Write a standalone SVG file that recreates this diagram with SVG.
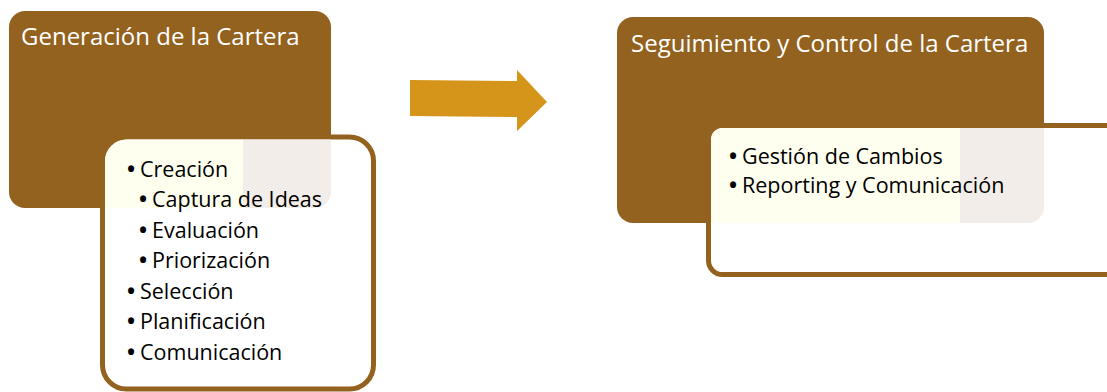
<svg xmlns="http://www.w3.org/2000/svg" width="1107" height="392" viewBox="0 0 1107 392">
<style>
.box{fill:#93621F}
.inner{fill:#FFFFFF;stroke:#93621F;stroke-width:5}
.title{font-family:"Open Sans",sans-serif;font-size:24px;fill:#FFFFFF}
.item{font-family:"Open Sans",sans-serif;font-size:21.5px;fill:#000000}
.b{font-weight:bold}
.cream{fill:#FFFFF0}
.grey{fill:#F2EDE8}
</style>
<defs>
<clipPath id="cpBigL"><rect x="9" y="11" width="322" height="197" rx="16"/></clipPath>
<clipPath id="cpInL"><rect x="105" y="139.5" width="266" height="247" rx="22"/></clipPath>
<clipPath id="cpBigR"><rect x="617" y="17" width="427" height="206" rx="16"/></clipPath>
<clipPath id="cpInR"><rect x="711" y="128" width="420" height="144" rx="12"/></clipPath>
</defs>
<g id="node-generacion">
<rect class="box" x="9" y="11" width="322" height="197" rx="16"/>
<text class="title" x="21" y="45">Generación de la Cartera</text>
</g>
<g id="node-generacion-detalle">
<rect class="inner" x="102.5" y="137" width="271" height="252" rx="24"/>
<g clip-path="url(#cpInL)"><g clip-path="url(#cpBigL)">
<rect class="cream" x="100" y="135" width="143" height="80"/>
<rect class="grey" x="243" y="135" width="100" height="80"/>
</g></g>
<text class="item" y="177"><tspan class="b" x="127">•</tspan><tspan x="140">Creación</tspan></text>
<text class="item" y="207"><tspan class="b" x="139">•</tspan><tspan x="152">Captura de Ideas</tspan></text>
<text class="item" y="238"><tspan class="b" x="139">•</tspan><tspan x="152">Evaluación</tspan></text>
<text class="item" y="268"><tspan class="b" x="139">•</tspan><tspan x="152">Priorización</tspan></text>
<text class="item" y="299"><tspan class="b" x="127">•</tspan><tspan x="140">Selección</tspan></text>
<text class="item" y="329"><tspan class="b" x="127">•</tspan><tspan x="140">Planificación</tspan></text>
<text class="item" y="360"><tspan class="b" x="127">•</tspan><tspan x="140">Comunicación</tspan></text>
</g>
<g id="node-seguimiento">
<rect class="box" x="617" y="17" width="427" height="206" rx="16"/>
<text class="title" x="631" y="52">Seguimiento y Control de la Cartera</text>
</g>
<g id="node-seguimiento-detalle">
<rect class="inner" x="708.5" y="125.5" width="420" height="149" rx="14"/>
<g clip-path="url(#cpInR)"><g clip-path="url(#cpBigR)">
<rect class="cream" x="705" y="120" width="255" height="110"/>
<rect class="grey" x="960" y="120" width="90" height="110"/>
</g></g>
<text class="item" y="164"><tspan class="b" x="729">•</tspan><tspan x="742">Gestión de Cambios</tspan></text>
<text class="item" y="193"><tspan class="b" x="729">•</tspan><tspan x="742">Reporting y Comunicación</tspan></text>
</g>
<g id="connectors">
<polygon points="410,80 517,81 517,70 547,102 517,131 517,117 410,116" fill="#D4951A"/>
</g>
</svg>
